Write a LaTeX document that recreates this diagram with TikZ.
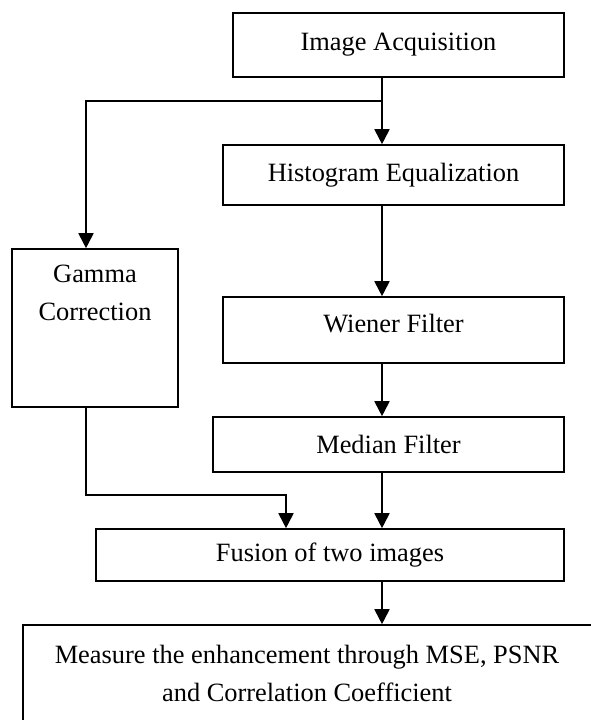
\documentclass[tikz,border=0pt]{standalone}
\usepackage{fontspec}
\setmainfont{Liberation Serif}
\usetikzlibrary{arrows.meta}
\begin{document}
\begin{tikzpicture}[x=1pt,y=-1pt,
  box/.style={draw, line width=1.6pt, inner sep=0pt},
  lbl/.style={inner sep=0pt, align=center, font=\fontsize{26.4}{38}\selectfont},
  arr/.style={line width=1.8pt, -{Triangle[length=15pt,width=15pt]}},
  link/.style={line width=1.8pt}]
\useasboundingbox (0,0) rectangle (591,720);
\clip (0,0) rectangle (591,720);

% process boxes
\node[box, lbl, minimum width=331pt, minimum height=64pt] (acq) at (398.5,45) {Image Acquisition};
\node[box, lbl, minimum width=341pt, minimum height=60pt] (hist) at (393.5,175) {Histogram Equalization};
\node[box, minimum width=166pt, minimum height=158pt] (gamma) at (95,328) {};
\node[lbl, anchor=north] (gammatxt) at ([yshift=-17pt]gamma.north) {Gamma\\Correction};
\node[box, minimum width=341pt, minimum height=66pt] (wiener) at (393.5,330) {};
\node[lbl, anchor=base] (wienertxt) at (393.5,332) {Wiener Filter};
\node[box, lbl, minimum width=351pt, minimum height=55pt] (median) at (388.5,444.5) {Median Filter};
\node[box, lbl, minimum width=468pt, minimum height=52pt] (fusion) at (330,555) {Fusion of two images};
\node[box, minimum width=572pt, minimum height=115pt] (measure) at (309,682.5) {};
\node[lbl, anchor=north] (measuretxt) at (307,645) {Measure the enhancement through MSE, PSNR\\and Correlation Coefficient};

% junction points of the connectors
\coordinate (split) at (382,101);
\coordinate (gleft) at (86,101);
\coordinate (gbend) at (86,495);
\coordinate (fbend) at (286,495);

% main chain
\draw[arr] (acq.south -| split) -- (hist.north -| split);
\draw[arr] (hist.south -| split) -- (wiener.north -| split);
\draw[arr] (wiener.south -| split) -- (median.north -| split);
\draw[arr] (median.south -| split) -- (fusion.north -| split);
\draw[arr] (fusion.south -| split) -- (measure.north -| split);

% gamma branch
\draw[arr] (split) -- (gleft) -- (gamma.north -| gleft);
\draw[arr] (gamma.south -| gbend) -- (gbend) -- (fbend) -- (fusion.north -| fbend);
\end{tikzpicture}
\end{document}
